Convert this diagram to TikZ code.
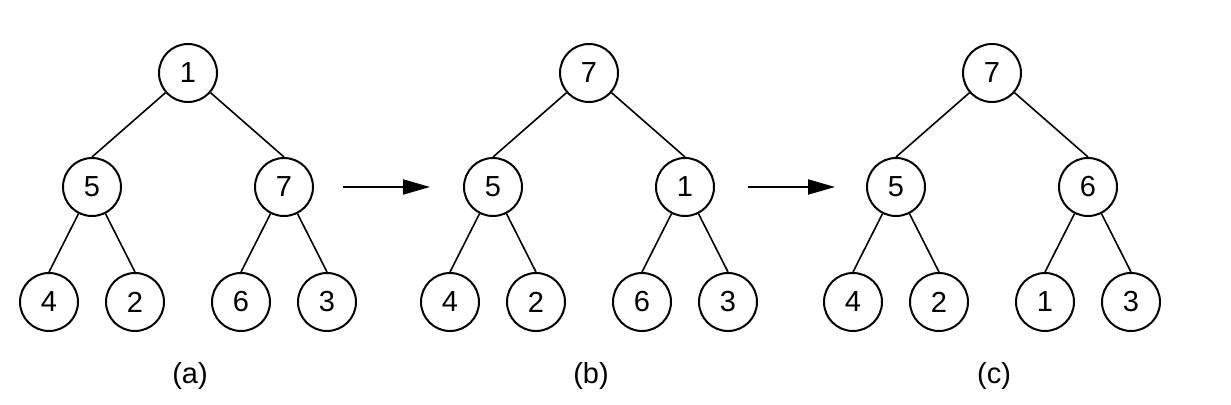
\documentclass[tikz,border=0pt]{standalone}
\usepackage{fontspec}
\setmainfont{Liberation Sans}
\usetikzlibrary{arrows.meta}

\tikzset{
  heapnode/.style={draw, circle, line width=1pt, minimum size=29pt, inner sep=0pt},
  heapedge/.style={line width=0.8pt},
  steparrow/.style={line width=1pt, -{Triangle[length=13.5pt,width=7.5pt]}}
}

\begin{document}
\begin{tikzpicture}[x=0.5pt, y=-0.5pt, font=\fontsize{14.5}{17}\selectfont]
\useasboundingbox (0,0) rectangle (1231,405);
% the three heaps
\foreach \t/\ox/\r/\l/\rr/\la/\lb/\lc/\ld in {a/188/1/5/7/4/2/6/3, b/589/7/5/1/4/2/6/3, c/992/7/5/6/4/2/1/3} {
  \node[heapnode] (\t1) at (\ox,73) {\r};
  \node[heapnode] (\t2) at (\ox-96,187) {\l};
  \node[heapnode] (\t3) at (\ox+96,187) {\rr};
  \node[heapnode] (\t4) at (\ox-139,302) {\la};
  \node[heapnode] (\t5) at (\ox-53,302) {\lb};
  \node[heapnode] (\t6) at (\ox+53,302) {\lc};
  \node[heapnode] (\t7) at (\ox+139,302) {\ld};
  \draw [heapedge] (\t1) -- (\t2.north);
  \draw [heapedge] (\t1) -- (\t3.north);
  \draw [heapedge] (\t2) -- (\t4.north);
  \draw [heapedge] (\t2) -- (\t5.north);
  \draw [heapedge] (\t3) -- (\t6.north);
  \draw [heapedge] (\t3) -- (\t7.north);
  \node (\t lab) at (\ox+2,376) {(\t)};
}
% arrows between the steps
\coordinate (ab1) at (343,187);
\coordinate (ab2) at (430,187);
\coordinate (bc1) at (748,187);
\coordinate (bc2) at (835,187);
\draw [steparrow] (ab1) -- (ab2);
\draw [steparrow] (bc1) -- (bc2);
\end{tikzpicture}
\end{document}
